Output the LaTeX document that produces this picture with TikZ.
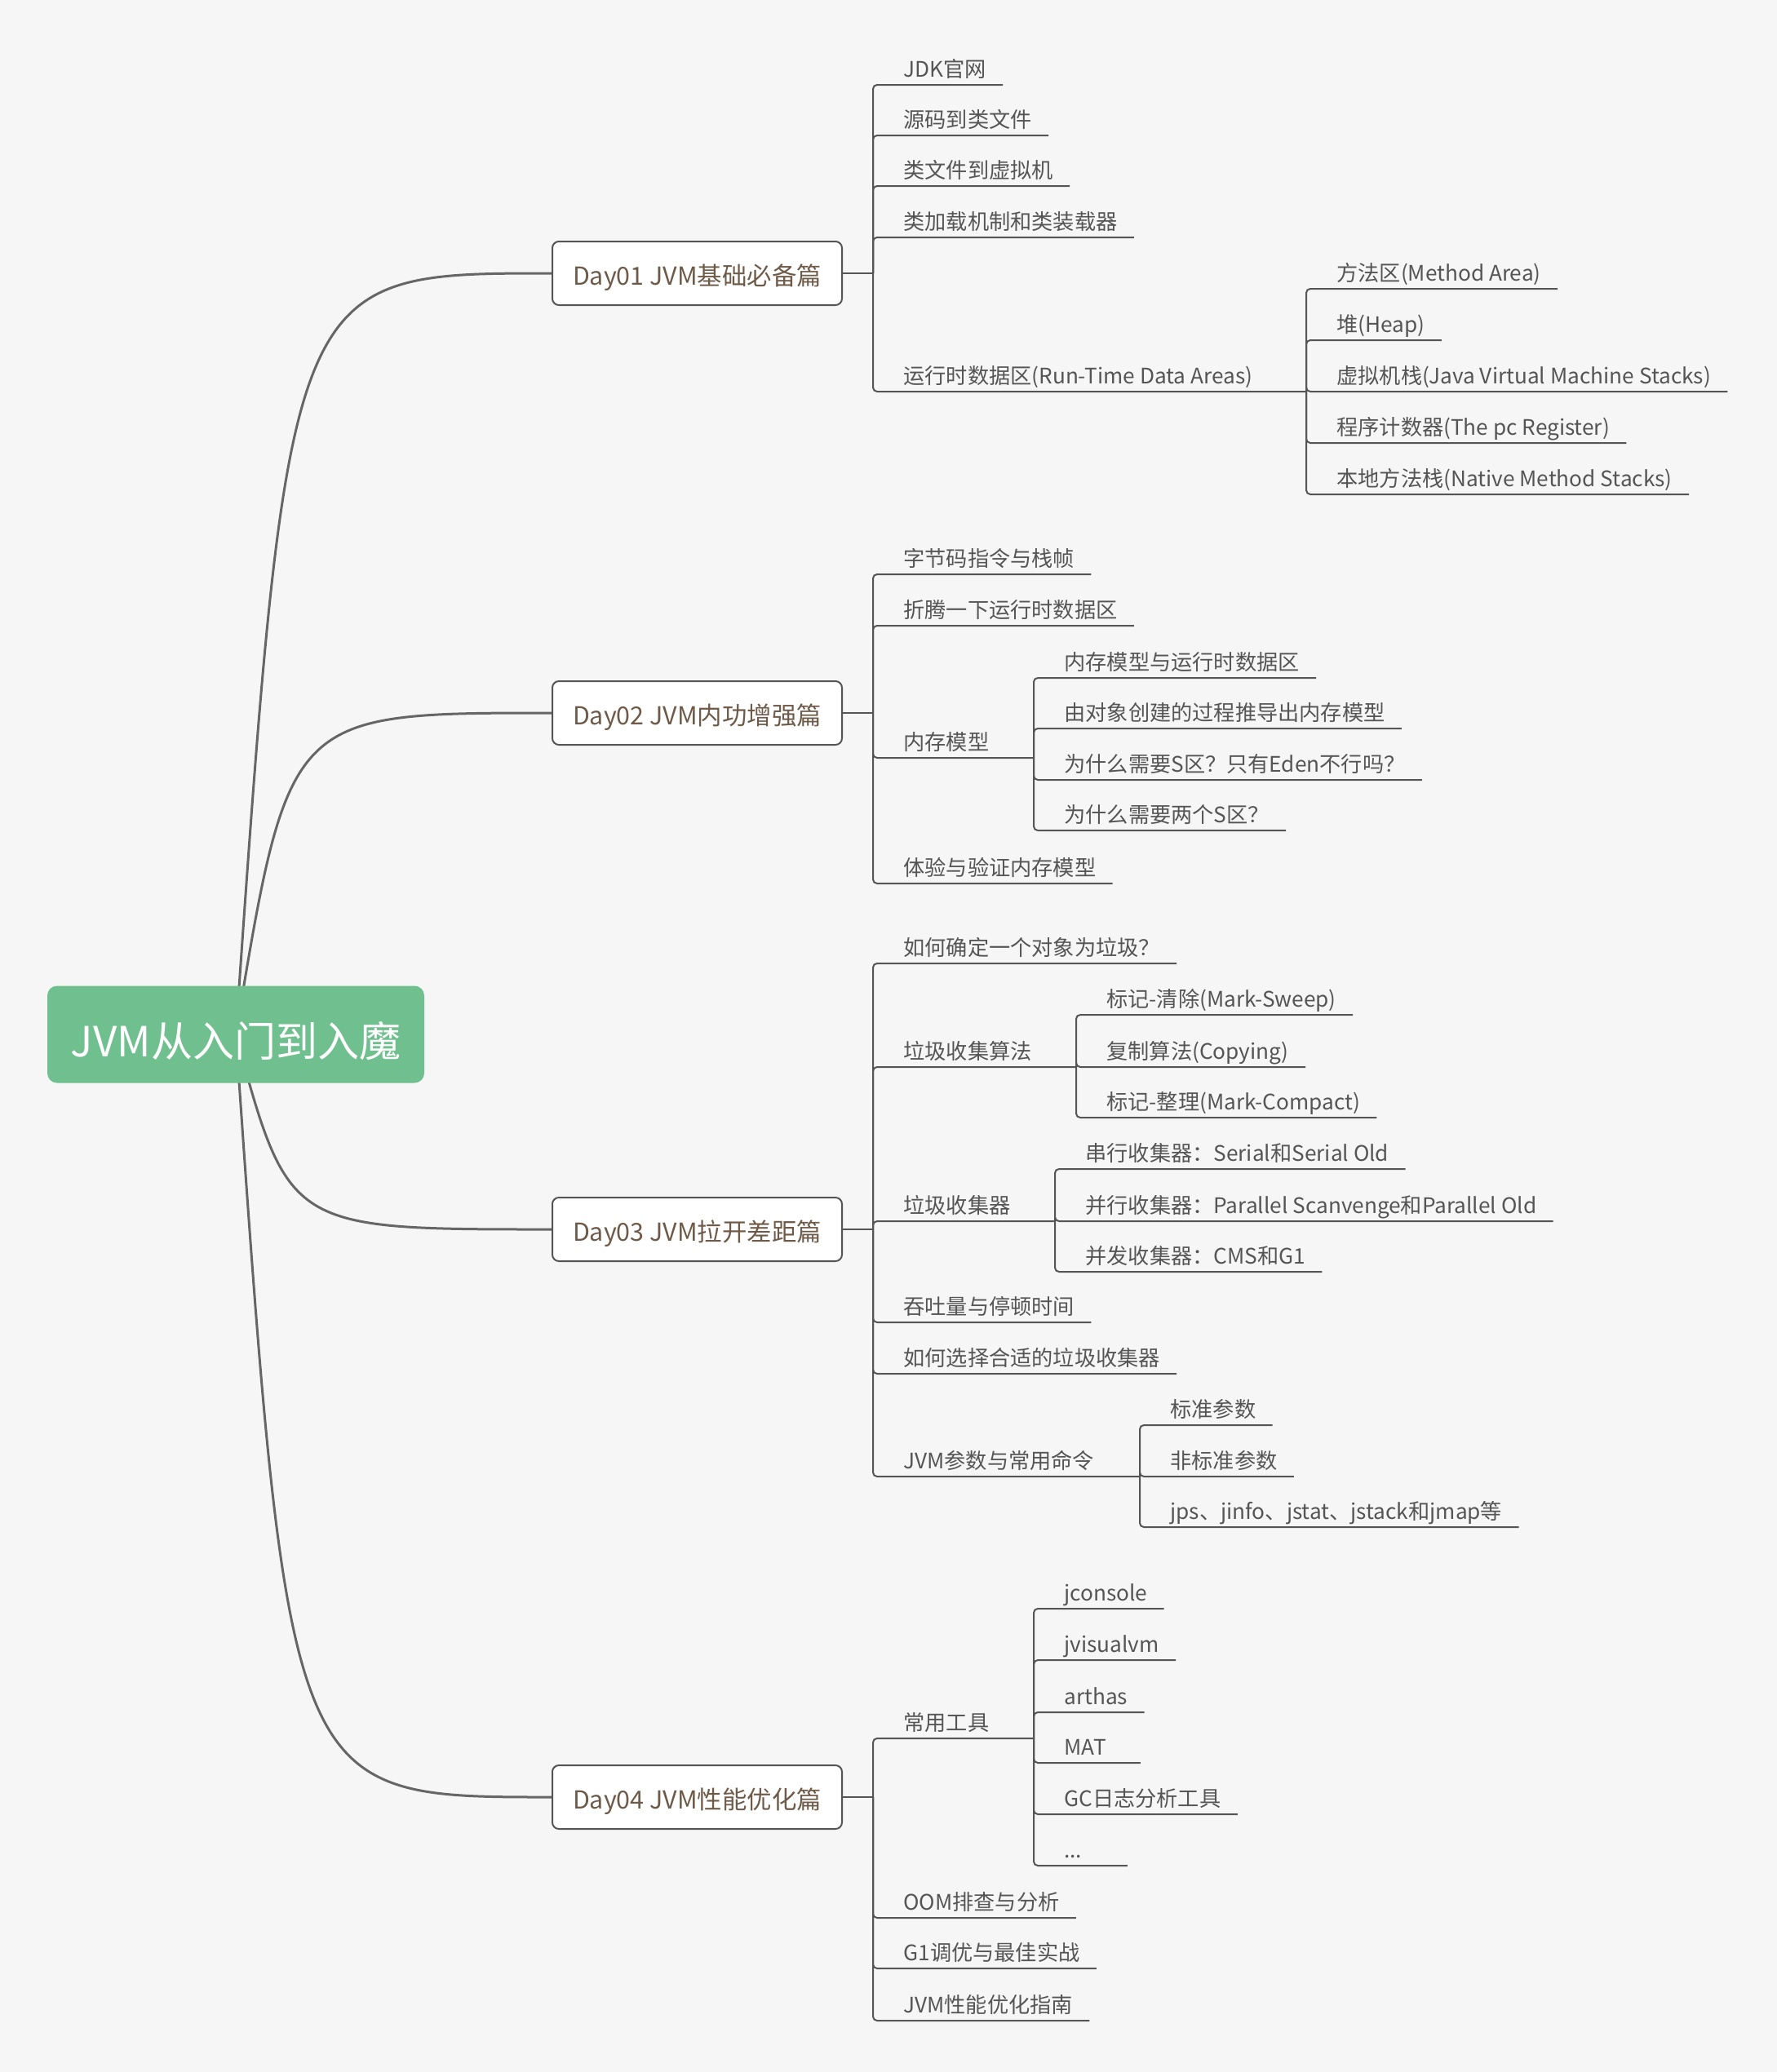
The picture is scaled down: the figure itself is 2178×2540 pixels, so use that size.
\documentclass[tikz,border=0pt]{standalone}
\usepackage{fontspec}
\setmainfont{Noto Sans CJK SC}
\usepackage{tikz}
\usetikzlibrary{calc,backgrounds}

\definecolor{paper}{HTML}{F6F6F6}
\definecolor{rootgreen}{HTML}{70BF8E}
\definecolor{trunkgray}{HTML}{666666}
\definecolor{linegray}{HTML}{555555}
\definecolor{leafgray}{HTML}{555555}
\definecolor{daybrown}{HTML}{6E5A48}

\begin{document}
\begin{tikzpicture}[
  x=0.5pt, y=-0.5pt,
  trunk/.style={draw=trunkgray, line width=1.5pt},
  branch/.style={draw=linegray, line width=1pt, rounded corners=2.5pt},
  root/.style={fill=rootgreen, rounded corners=6pt, minimum width=231pt,
    minimum height=59.5pt, text=white, text height=27pt, text depth=0pt,
    font=\fontsize{25.5}{30}\selectfont},
  day/.style={draw=linegray, fill=white, line width=1pt, rounded corners=4pt,
    minimum width=177.5pt, minimum height=39pt, text=daybrown,
    text height=14.5pt, text depth=0pt, font=\fontsize{15.2}{18}\selectfont},
  leaf/.style={anchor=base west, inner sep=0pt, text=leafgray,
    font=\fontsize{13.1}{15}\selectfont}
]
\useasboundingbox (0,0) rectangle (2178,2540);

% --- Topic helpers: name, parent junction, underline y, text (, bracket x) ---
\newcommand{\Leaf}[4]{%
  \node[leaf] (#1) at ($(#2 |- 0,#3)+(37,-10)$) {#4};
  \draw[branch] (#2) |- ([xshift=10pt,yshift=-5pt]#1.base east);
}
\newcommand{\Branch}[5]{%
  \node[leaf] (#1) at ($(#2 |- 0,#3)+(37,-10)$) {#4};
  \coordinate (#1j) at (#5,#3);
  \draw[branch] (#2) |- (#1j);
}

% --- Central topic and the four days ---
\node[root] (root) at (289,1268) {JVM从入门到入魔};
\node[day] (day1) at (854.5,335) {Day01 JVM基础必备篇};
\node[day] (day2) at (854.5,874) {Day02 JVM内功增强篇};
\node[day] (day3) at (854.5,1507) {Day03 JVM拉开差距篇};
\node[day] (day4) at (854.5,2203) {Day04 JVM性能优化篇};

% --- Paper and curved trunks (behind the boxes) ---
\begin{scope}[on background layer]
  \fill[paper] (0,0) rectangle (2178,2540);
  \draw[trunk] (root.center) .. controls ($(root.center |- day1.west)+(65,0)$) .. (day1.west);
  \draw[trunk] (root.center) .. controls ($(root.center |- day2.west)+(65,0)$) .. (day2.west);
  \draw[trunk] (root.center) .. controls ($(root.center |- day3.west)+(65,0)$) .. (day3.west);
  \draw[trunk] (root.center) .. controls ($(root.center |- day4.west)+(65,0)$) .. (day4.west);
\end{scope}

% --- Day01 ---
\coordinate (d1j) at ($(day1.east)+(37,0)$);
\draw[branch] (day1) -- (d1j);
\Leaf{jdk}{d1j}{104}{JDK官网}
\Leaf{src}{d1j}{166}{源码到类文件}
\Leaf{cls}{d1j}{228}{类文件到虚拟机}
\Leaf{load}{d1j}{291}{类加载机制和类装载器}
\Branch{rtda}{d1j}{480}{运行时数据区(Run-Time Data Areas)}{1601}
\Leaf{area}{rtdaj}{354}{方法区(Method Area)}
\Leaf{heap}{rtdaj}{417}{堆(Heap)}
\Leaf{jvms}{rtdaj}{480}{虚拟机栈(Java Virtual Machine Stacks)}
\Leaf{pcreg}{rtdaj}{543}{程序计数器(The pc Register)}
\Leaf{nms}{rtdaj}{606}{本地方法栈(Native Method Stacks)}

% --- Day02 ---
\coordinate (d2j) at ($(day2.east)+(37,0)$);
\draw[branch] (day2) -- (d2j);
\Leaf{bytecode}{d2j}{704}{字节码指令与栈帧}
\Leaf{play}{d2j}{767}{折腾一下运行时数据区}
\Branch{mm}{d2j}{929}{内存模型}{1267}
\Leaf{mmrt}{mmj}{831}{内存模型与运行时数据区}
\Leaf{mmobj}{mmj}{893}{由对象创建的过程推导出内存模型}
\Leaf{whys}{mmj}{956}{为什么需要S区？只有Eden不行吗？}
\Leaf{twos}{mmj}{1018}{为什么需要两个S区？}
\Leaf{verify}{d2j}{1083}{体验与验证内存模型}

% --- Day03 ---
\coordinate (d3j) at ($(day3.east)+(37,0)$);
\draw[branch] (day3) -- (d3j);
\Leaf{garbage}{d3j}{1181}{如何确定一个对象为垃圾？}
\Branch{algo}{d3j}{1308}{垃圾收集算法}{1319}
\Leaf{marksweep}{algoj}{1244}{标记-清除(Mark-Sweep)}
\Leaf{copying}{algoj}{1308}{复制算法(Copying)}
\Leaf{markcompact}{algoj}{1370}{标记-整理(Mark-Compact)}
\Branch{gc}{d3j}{1497}{垃圾收集器}{1293}
\Leaf{serial}{gcj}{1433}{串行收集器：Serial和Serial Old}
\Leaf{parallel}{gcj}{1497}{并行收集器：Parallel Scanvenge和Parallel Old}
\Leaf{cms}{gcj}{1559}{并发收集器：CMS和G1}
\Leaf{pause}{d3j}{1621}{吞吐量与停顿时间}
\Leaf{choose}{d3j}{1684}{如何选择合适的垃圾收集器}
\Branch{params}{d3j}{1810}{JVM参数与常用命令}{1397}
\Leaf{stdp}{paramsj}{1747}{标准参数}
\Leaf{nonstdp}{paramsj}{1810}{非标准参数}
\Leaf{cmds}{paramsj}{1872}{jps、jinfo、jstat、jstack和jmap等}

% --- Day04 ---
\coordinate (d4j) at ($(day4.east)+(37,0)$);
\draw[branch] (day4) -- (d4j);
\Branch{tools}{d4j}{2131}{常用工具}{1267}
\Leaf{jconsole}{toolsj}{1972}{jconsole}
\Leaf{jvisualvm}{toolsj}{2035}{jvisualvm}
\Leaf{arthas}{toolsj}{2099}{arthas}
\Leaf{mat}{toolsj}{2161}{\makebox[36.5pt][l]{MAT}}
\Leaf{gclog}{toolsj}{2224}{GC日志分析工具}
\Leaf{etc}{toolsj}{2287}{\makebox[28.5pt][l]{...}}
\Leaf{oom}{d4j}{2351}{OOM排查与分析}
\Leaf{g1}{d4j}{2413}{G1调优与最佳实战}
\Leaf{guide}{d4j}{2477}{JVM性能优化指南}

\end{tikzpicture}
\end{document}
